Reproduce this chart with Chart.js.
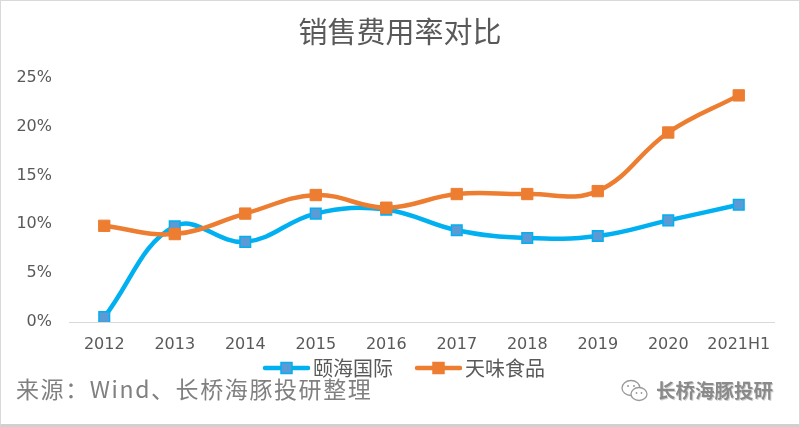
<!DOCTYPE html>
<html>
<head>
<meta charset="utf-8">
<script src="https://cdn.jsdelivr.net/npm/chart.js@4/dist/chart.umd.min.js"></script>
<style>
    html, body { margin: 0; padding: 0; background: #fff; }
    #wrap { position: relative; width: 800px; height: 427px; overflow: hidden; }
    #frame {
        position: absolute; left: 0; top: 0; width: 800px; height: 427px;
        box-sizing: border-box; border: 1px solid #d9d9d9; border-bottom: 3px solid #d0d0d0;
        pointer-events: none;
    }
    .note { position: absolute; font-family: "Noto Sans CJK SC", sans-serif; white-space: nowrap; line-height: 1; }
    #source { left: 16px; top: 377px; font-size: 23px; letter-spacing: 1.6px; color: #808080; }
    #brand { left: 656px; top: 380px; font-size: 19.5px; font-weight: bold; color: #8a8a8a; text-shadow: 1px 1px 0 #d0d0d0; }
    #wx { position: absolute; left: 620px; top: 379px; }
</style>
</head>
<body>
<div id="wrap">
    <canvas id="salesChart" width="800" height="427"></canvas>
    <div id="source" class="note">来源：Wind、长桥海豚投研整理</div>
    <svg id="wx" width="30" height="24" viewBox="0 0 30 24">
        <ellipse cx="11" cy="9" rx="9" ry="7.5" fill="none" stroke="#9a9a9a" stroke-width="1.3"/>
        <ellipse cx="19" cy="15" rx="8" ry="6.5" fill="#fff" stroke="#9a9a9a" stroke-width="1.3"/>
        <circle cx="8" cy="7" r="1" fill="#9a9a9a"/><circle cx="14" cy="7" r="1" fill="#9a9a9a"/>
        <circle cx="16.5" cy="14" r="0.9" fill="#9a9a9a"/><circle cx="21.5" cy="14" r="0.9" fill="#9a9a9a"/>
    </svg>
    <div id="brand" class="note">长桥海豚投研</div>
    <div id="frame"></div>
</div>
<script>
const years = ["2012", "2013", "2014", "2015", "2016", "2017", "2018", "2019", "2020", "2021H1"];
const yihai = [0.5, 9.8, 8.2, 11.1, 11.5, 9.4, 8.6, 8.8, 10.4, 12.0];
const tianwei = [9.85, 9.0, 11.1, 13.0, 11.7, 13.1, 13.1, 13.4, 19.4, 23.2];
const yTicks = [0, 5, 10, 15, 20, 25];

const blue = "#00B0F0";
const blueFill = "#5B9BD5";
const orange = "#ED7D31";
const grey = "#595959";
const cjk = "'Noto Sans CJK SC', sans-serif";
const num = "'DejaVu Sans', sans-serif";

// legend icon: line with a square, drawn at the right end of a wider canvas
// so the label text sits right after the line
function legendIcon(lineColor, fill, border) {
    const c = document.createElement("canvas");
    c.width = 72; c.height = 14;
    const ctx = c.getContext("2d");
    ctx.strokeStyle = lineColor;
    ctx.lineWidth = 4.5;
    ctx.lineCap = "round";
    ctx.beginPath();
    ctx.moveTo(27, 7); ctx.lineTo(70, 7);
    ctx.stroke();
    ctx.fillStyle = fill;
    ctx.fillRect(43, 1.5, 11, 11);
    ctx.strokeStyle = border;
    ctx.lineWidth = 1.5;
    ctx.strokeRect(43, 1.5, 11, 11);
    return c;
}

const blueIcon = legendIcon(blue, blueFill, blue);
const orangeIcon = legendIcon(orange, orange, orange);

// title and legend are centred on the full picture, not on the plot area
const recentre = {
    id: "recentre",
    afterLayout(chart) {
        chart.titleBlock.left += 13;
        chart.titleBlock.right += 13;
        chart.legend.left += 8;
        chart.legend.right += 8;
    }
};

new Chart(document.getElementById("salesChart"), {
    type: "line",
    data: {
        labels: years,
        datasets: [{
            label: "颐海国际",
            data: yihai,
            borderColor: blue,
            borderWidth: 4.5,
            backgroundColor: blueFill,
            pointStyle: "rect",
            pointRadius: 7.5,
            pointBackgroundColor: blueFill,
            pointBorderColor: blue,
            pointBorderWidth: 1.5,
            tension: 0.4,
            order: 1
        }, {
            label: "天味食品",
            data: tianwei,
            borderColor: orange,
            borderWidth: 4.5,
            backgroundColor: orange,
            pointStyle: "rect",
            pointRadius: 8,
            pointBackgroundColor: orange,
            pointBorderColor: orange,
            pointBorderWidth: 1,
            tension: 0.4,
            order: 0
        }]
    },
    options: {
        responsive: false,
        animation: false,
        layout: { padding: { left: 0, right: 26, top: 0, bottom: 39 } },
        plugins: {
            title: {
                display: true,
                text: "销售费用率对比",
                color: grey,
                font: { family: cjk, size: 29, weight: "normal" },
                padding: { top: 15, bottom: 28 }
            },
            legend: {
                position: "bottom",
                labels: {
                    usePointStyle: true,
                    pointStyleWidth: 58,
                    padding: 4,
                    color: grey,
                    font: { family: cjk, size: 20 },
                    generateLabels: () => [
                        { text: "颐海国际", pointStyle: blueIcon, fillStyle: blueFill, strokeStyle: blue, lineWidth: 0, fontColor: grey, hidden: false, datasetIndex: 0 },
                        { text: "天味食品", pointStyle: orangeIcon, fillStyle: orange, strokeStyle: orange, lineWidth: 0, fontColor: grey, hidden: false, datasetIndex: 1 }
                    ]
                }
            },
            tooltip: { enabled: false }
        },
        scales: {
            x: {
                offset: true,
                // fixed height so the legend sits close under the tick labels
                afterFit: (scale) => { scale.height = 32; },
                grid: { display: false, drawTicks: false },
                border: { display: true, color: "#d9d9d9", width: 1 },
                ticks: { color: grey, padding: 13, maxRotation: 0, autoSkip: false, font: { family: num, size: 16 } }
            },
            y: {
                min: 0,
                max: 25,
                afterFit: (scale) => { scale.width = 69; },
                afterBuildTicks: (scale) => { scale.ticks = yTicks.map(v => ({ value: v })); },
                grid: { display: false, drawTicks: false },
                border: { display: false },
                ticks: {
                    color: grey,
                    padding: 17,
                    font: { family: num, size: 16 },
                    callback: (v) => v + "%"
                }
            }
        }
    },
    plugins: [recentre]
});
</script>
</body>
</html>
